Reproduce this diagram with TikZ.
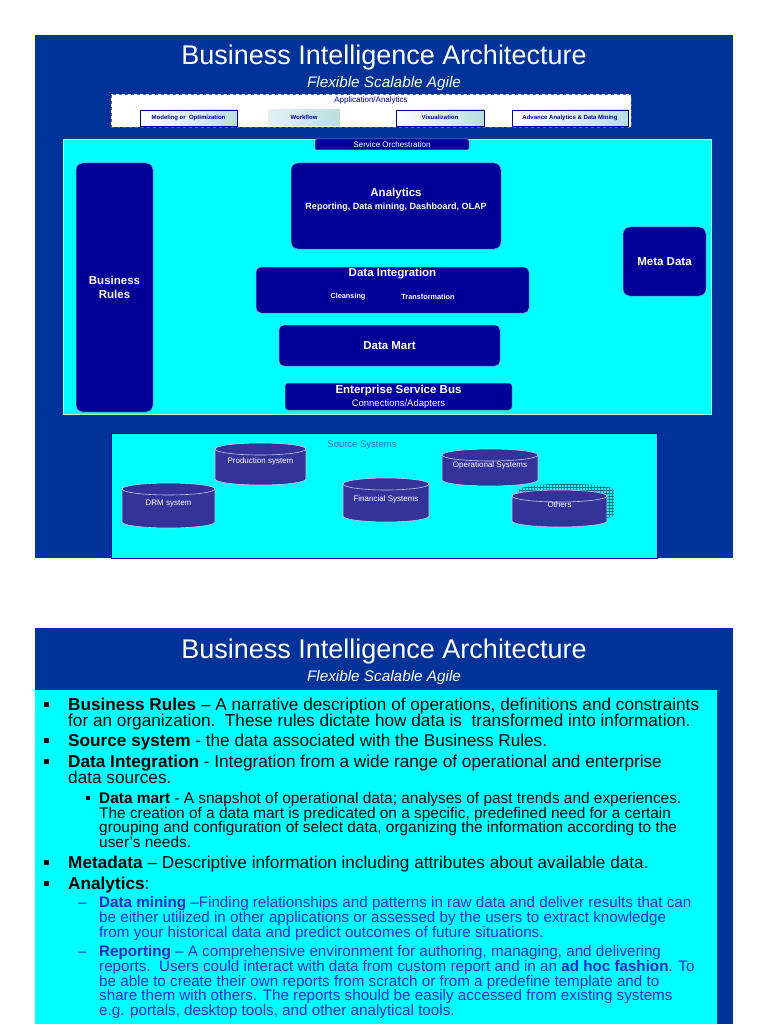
\documentclass[tikz,border=0pt]{standalone}
\usepackage{fontspec}
\setmainfont{Liberation Sans}
\usetikzlibrary{patterns}
\definecolor{bgblue}{RGB}{0,51,153}
\definecolor{navy}{RGB}{0,0,153}
\definecolor{cylfill}{RGB}{51,51,153}
\definecolor{cyledge}{RGB}{200,200,240}
\definecolor{ssblue}{RGB}{0,102,204}
\definecolor{txtblue}{RGB}{40,40,204}
\definecolor{gradteal}{RGB}{185,222,222}
\definecolor{shadowteal}{RGB}{0,120,130}
\definecolor{navyedge}{RGB}{150,150,220}
\definecolor{appedge}{RGB}{90,90,170}
\definecolor{cyanbg}{RGB}{0,255,255}

\newcommand{\dbcyl}[7]{%
  \fill[cylfill] ({#2-#5},#3) -- ({#2-#5},#4) arc[start angle=180,end angle=0,x radius=#5,y radius=6] -- ({#2+#5},#3) -- cycle;
  \draw[cyledge,line width=0.6pt] ({#2-#5},#3) -- ({#2-#5},#4) arc[start angle=180,end angle=0,x radius=#5,y radius=6] -- ({#2+#5},#3);
  \filldraw[fill=cylfill,draw=cyledge,line width=0.6pt] (#2,#3) ellipse[x radius=#5,y radius=6];
  \node[cyllabel] (#1) at (#2,#7) {#6};
}

\tikzset{
  panel/.style={fill=bgblue, draw=none},
  navybox/.style={draw=navyedge, line width=0.5pt, fill=navy, rounded corners=7pt, inner sep=0pt},
  whitebold/.style={text=white, font=\bfseries\fontsize{11.5}{14}\selectfont, align=center, inner sep=0pt},
  whitesmall/.style={text=white, font=\fontsize{8}{9}\selectfont, inner sep=0pt},
  appsub/.style={draw=navy, line width=0.6pt, left color=white, right color=gradteal, inner sep=0pt},
  appsubtext/.style={text=navy, font=\bfseries\fontsize{6}{7}\selectfont, inner sep=0pt},
  cyllabel/.style={text=white, font=\fontsize{8}{9}\selectfont, inner sep=0pt},
  titletext/.style={text=white, font=\fontsize{27}{30}\selectfont, anchor=base, inner sep=0pt},
  subtitletext/.style={text=white, font=\itshape\fontsize{15.3}{16}\selectfont, anchor=base, inner sep=0pt},
  bodytext/.style={anchor=base west, inner sep=0pt, text=black, font=\fontsize{17.2}{18}\selectfont},
  subtext/.style={anchor=base west, inner sep=0pt, text=black, font=\fontsize{15.4}{16}\selectfont},
  bluetext/.style={anchor=base west, inner sep=0pt, text=txtblue, font=\fontsize{15.2}{16}\selectfont},
  sqbullet/.style={fill=black, inner sep=0pt, minimum size=5pt},
  smallbullet/.style={fill=black, inner sep=0pt, minimum size=4pt},
  dashmark/.style={anchor=base west, text=txtblue, font=\fontsize{15.2}{16}\selectfont, inner sep=0pt},
}

\begin{document}
\begin{tikzpicture}[x=1pt,y=-1pt]
\useasboundingbox (0,0) rectangle (768,1024);
\fill[white] (0,0) rectangle (768,1024);

% ---------------- Slide 1 ----------------
\fill[panel] (35,35) rectangle (733,558);
\node[titletext] (title1) at (384,65) {Business Intelligence Architecture};
\node[subtitletext] (sub1) at (384,88) {Flexible Scalable Agile};

% Application / Analytics
\node[draw=appedge, dashed, fill=white, line width=0.6pt, minimum width=520pt, minimum height=33pt, inner sep=0pt] (app) at (371,110.5) {};
\node[text=navy, font=\fontsize{8}{9}\selectfont, inner sep=0pt] (applabel) at (371,100) {Application/Analytics};
\node[appsub, minimum width=97pt, minimum height=16pt] (model) at (188.5,118) {};
\node[appsubtext] (modelt) at (188.5,118) {Modeling or\ \ Optimization};
\node[left color=white!60!gradteal, right color=gradteal, inner sep=0pt, minimum width=72pt, minimum height=16pt] (work) at (304,118) {};
\node[appsubtext] (workt) at (304,117.5) {Workflow};
\node[appsub, minimum width=88pt, minimum height=16pt] (visu) at (440,118) {};
\node[appsubtext] (visut) at (440,117.5) {Visualization};
\node[appsub, minimum width=116pt, minimum height=16pt] (adv) at (570,118) {};
\node[appsubtext] (advt) at (570,117.5) {Advance Analytics \& Data Mining};

% Architecture area
\node[fill=cyanbg, draw=white!60!cyanbg, line width=0.6pt, minimum width=648pt, minimum height=275pt, inner sep=0pt] (arch) at (387,276.5) {};
\node[fill=navy, draw=navyedge, line width=0.5pt, rounded corners=2pt, minimum width=154pt, minimum height=11pt, inner sep=0pt] (orch) at (392,144.5) {};
\node[whitesmall] (orcht) at (392,145) {Service Orchestration};

\node[navybox, minimum width=77pt, minimum height=249pt] (rules) at (114.5,287.5) {};
\node[whitebold] (rulest) at (114.5,287.5) {Business\\Rules};

\node[navybox, minimum width=210pt, minimum height=86pt] (analytics) at (396,206) {};
\node[whitebold] (analyticst) at (396,194) {Analytics};
\node[text=white, font=\bfseries\fontsize{9}{10}\selectfont, inner sep=0pt] (analyticss) at (396,207) {Reporting, Data mining, Dashboard, OLAP};

\node[navybox, minimum width=83pt, minimum height=69pt] (meta) at (664.5,261.5) {};
\node[whitebold] (metat) at (664.5,261.5) {Meta Data};

\node[navybox, rounded corners=5pt, minimum width=273pt, minimum height=46pt] (integ) at (392.5,290) {};
\node[whitebold] (integt) at (392.5,274) {Data Integration};
\node[text=white, font=\bfseries\fontsize{7.3}{8}\selectfont, inner sep=0pt] (cleans) at (348,297) {Cleansing};
\node[text=white, font=\bfseries\fontsize{7.3}{8}\selectfont, inner sep=0pt] (transf) at (428,297) {Transformation};

\node[navybox, rounded corners=5pt, minimum width=221pt, minimum height=41pt] (mart) at (389.5,345.5) {};
\node[whitebold] (martt) at (389.5,345.5) {Data Mart};

\node[navybox, rounded corners=3pt, minimum width=227pt, minimum height=27pt] (esb) at (398.5,396.5) {};
\node[whitebold] (esbt) at (398.5,391) {Enterprise Service Bus};
\node[text=white, font=\fontsize{9.5}{10}\selectfont, inner sep=0pt] (esbs) at (398.5,404) {Connections/Adapters};

% Source systems
\node[fill=cyanbg, draw=navy, line width=0.5pt, minimum width=546pt, minimum height=125pt, inner sep=0pt] (src) at (384,495.5) {};
\node[text=ssblue, font=\fontsize{9.5}{10}\selectfont, inner sep=0pt] (srct) at (362,445) {Source Systems};

% shadow of Others
\fill[pattern=grid, pattern color=shadowteal] (519,490) -- (519,515) arc[start angle=180,end angle=0,x radius=47.5,y radius=6] -- (614,490) arc[start angle=0,end angle=-180,x radius=47.5,y radius=6] -- cycle;

\dbcyl{prod}{260.5}{449}{479}{45.5}{Production system}{461}
\dbcyl{drm}{168.5}{489}{522}{46.5}{DRM system}{504}
\dbcyl{fin}{386}{484}{516}{43}{Financial Systems}{499}
\dbcyl{oper}{490}{455}{480}{48}{Operational Systems}{465}
\dbcyl{others}{559.5}{496}{521}{47.5}{Others}{505}

% ---------------- Slide 2 ----------------
\fill[panel] (35,628) rectangle (733,1024);
\fill[cyanbg] (35,690) rectangle (717,1024);
\node[titletext] (title2) at (384,658) {Business Intelligence Architecture};
\node[subtitletext] (sub2) at (384,681) {Flexible Scalable Agile};

\node[sqbullet] (b1) at (46.5,704.5) {};
\node[bodytext] (l1) at (68,710.5) {\textbf{Business Rules} – A narrative description of operations, definitions and constraints};
\node[bodytext] (l2) at (68,726.5) {for an organization.\ \ These rules dictate how data is\ \ transformed into information.};
\node[sqbullet] (b2) at (46.5,740.5) {};
\node[bodytext] (l3) at (68,746.5) {\textbf{Source system} - the data associated with the Business Rules.};
\node[sqbullet] (b3) at (46.5,761) {};
\node[bodytext] (l4) at (68,767) {\textbf{Data Integration} - Integration from a wide range of operational and enterprise};
\node[bodytext] (l5) at (68,783) {data sources.};
\node[smallbullet] (b4) at (88,798) {};
\node[subtext] (l6) at (99,803) {\textbf{Data mart} - A snapshot of operational data; analyses of past trends and experiences.};
\node[subtext] (l7) at (99,818) {The creation of a data mart is predicated on a specific, predefined need for a certain};
\node[subtext] (l8) at (99,832.5) {grouping and configuration of select data, organizing the information according to the};
\node[subtext] (l9) at (99,847.5) {user’s needs.};
\node[sqbullet] (b5) at (46.5,862) {};
\node[bodytext] (l10) at (68,868) {\textbf{Metadata} – Descriptive information including attributes about available data.};
\node[sqbullet] (b6) at (46.5,883) {};
\node[bodytext] (l11) at (68,889) {\textbf{Analytics}:};
\node[dashmark] (d1) at (78,907.5) {–};
\node[bluetext] (l12) at (99,907.5) {\textbf{Data mining} –Finding relationships and patterns in raw data and deliver results that can};
\node[bluetext] (l13) at (99,922.5) {be either utilized in other applications or assessed by the users to extract knowledge};
\node[bluetext] (l14) at (99,937.5) {from your historical data and predict outcomes of future situations.};
\node[dashmark] (d2) at (78,956.5) {–};
\node[bluetext] (l15) at (99,956.5) {\textbf{Reporting} – A comprehensive environment for authoring, managing, and delivering};
\node[bluetext] (l16) at (99,971.5) {reports.\ \ Users could interact with data from custom report and in an \textbf{ad hoc fashion}. To};
\node[bluetext] (l17) at (99,986) {be able to create their own reports from scratch or from a predefine template and to};
\node[bluetext] (l18) at (99,1000.5) {share them with others. The reports should be easily accessed from existing systems};
\node[bluetext] (l19) at (99,1015) {e.g. portals, desktop tools, and other analytical tools.};
\end{tikzpicture}
\end{document}
